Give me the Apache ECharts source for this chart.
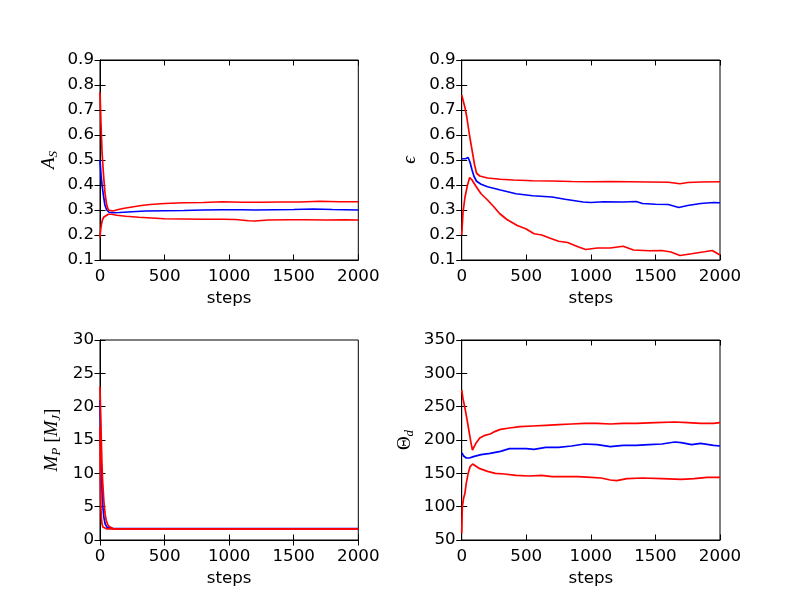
<!DOCTYPE html>
<html>
<head>
<meta charset="utf-8">
<script src="https://cdn.jsdelivr.net/npm/echarts@6/dist/echarts.min.js"></script>
<style>
html, body { margin: 0; padding: 0; background: #fff; }
#chart { width: 800px; height: 600px; }
</style>
</head>
<body>
<div id="chart"></div>
<script>
// x ticks shared by all four panels
var stepTicks = [0, 500, 1000, 1500, 2000];

// A_S : [step, value]
var asMid = [[0,0.50],[8,0.44],[16,0.40],[26,0.36],[38,0.32],[52,0.30],[70,0.291],[100,0.289],[150,0.290],[250,0.293],[350,0.296],[500,0.297],[650,0.298],[800,0.300],[950,0.301],[1100,0.301],[1200,0.300],[1350,0.301],[1500,0.302],[1650,0.304],[1800,0.302],[2000,0.300]];
var asHigh = [[0,0.77],[8,0.64],[16,0.53],[26,0.45],[38,0.37],[52,0.32],[65,0.30],[80,0.294],[100,0.296],[150,0.303],[200,0.308],[260,0.313],[320,0.318],[390,0.322],[500,0.326],[650,0.329],[800,0.330],[950,0.333],[1100,0.331],[1250,0.331],[1400,0.332],[1550,0.332],[1700,0.335],[1850,0.333],[2000,0.333]];
var asLow = [[0,0.19],[5,0.22],[12,0.245],[20,0.262],[30,0.272],[45,0.279],[65,0.283],[90,0.283],[130,0.279],[200,0.275],[300,0.271],[400,0.268],[500,0.265],[650,0.264],[800,0.263],[950,0.263],[1050,0.262],[1150,0.257],[1200,0.256],[1300,0.260],[1450,0.261],[1600,0.261],[1750,0.260],[1900,0.261],[2000,0.260]];

// epsilon
var epsMid = [[0,0.505],[15,0.51],[30,0.505],[50,0.51],[65,0.49],[80,0.46],[95,0.435],[115,0.415],[150,0.403],[200,0.393],[300,0.38],[420,0.365],[550,0.357],[700,0.352],[800,0.343],[940,0.332],[1000,0.330],[1100,0.333],[1250,0.332],[1350,0.334],[1400,0.326],[1500,0.323],[1600,0.322],[1680,0.310],[1750,0.318],[1850,0.326],[1950,0.330],[2000,0.329]];
var epsHigh = [[0,0.76],[10,0.74],[25,0.71],[40,0.67],[60,0.60],[80,0.54],[100,0.48],[115,0.447],[140,0.436],[200,0.428],[300,0.423],[400,0.420],[550,0.417],[700,0.416],[850,0.414],[1000,0.413],[1150,0.414],[1300,0.413],[1450,0.412],[1600,0.411],[1690,0.405],[1750,0.410],[1850,0.412],[2000,0.413]];
var epsLow = [[0,0.20],[10,0.29],[25,0.35],[45,0.40],[62,0.43],[80,0.42],[110,0.395],[150,0.365],[200,0.34],[245,0.315],[295,0.285],[350,0.262],[430,0.238],[500,0.224],[560,0.205],[620,0.200],[680,0.188],[750,0.175],[820,0.170],[900,0.153],[960,0.142],[1050,0.148],[1150,0.148],[1250,0.155],[1330,0.140],[1450,0.137],[1550,0.138],[1620,0.132],[1690,0.118],[1780,0.125],[1880,0.133],[1940,0.138],[2000,0.120]];

// M_P [M_J]
var mpMid = [[0,21],[5,15],[10,10.5],[15,7.5],[20,5.5],[30,3.4],[40,2.4],[55,1.9],[70,1.75],[100,1.7],[2000,1.7]];
var mpHigh = [[0,23],[5,19],[10,15],[15,11.5],[20,9],[30,5.8],[40,3.8],[50,2.8],[65,2.1],[80,1.85],[100,1.72],[150,1.68],[2000,1.68]];
var mpLow = [[0,17],[3,9],[6,5.5],[10,3.5],[15,2.5],[22,1.95],[32,1.75],[50,1.68],[2000,1.68]];

// Theta_d
var thMid = [[0,181],[15,176],[35,173],[60,173],[90,175],[150,178],[220,180],[300,183],[370,187],[430,187],[500,187],[560,186],[650,189],[750,189],[850,191],[950,194],[1050,193],[1150,190],[1250,192],[1350,192],[1450,193],[1550,194],[1650,197],[1700,196],[1780,193],[1850,195],[1950,192],[2000,191]];
var thHigh = [[0,275],[10,262],[25,248],[40,232],[55,215],[70,198],[83,185],[95,188],[110,195],[140,203],[180,207],[220,209],[260,213],[300,216],[370,218],[450,220],[550,221],[650,222],[750,223],[850,224],[950,225],[1050,225],[1150,224],[1250,225],[1350,225],[1500,226],[1650,227],[1750,226],[1850,225],[1950,225],[2000,226]];
var thLow = [[0,60],[5,100],[15,113],[25,120],[35,135],[50,150],[65,160],[85,164],[100,162],[140,157],[200,153],[260,150],[330,149],[420,147],[520,146],[620,147],[700,145],[800,145],[900,145],[1000,144],[1080,143],[1150,140],[1200,139],[1280,142],[1400,143],[1550,142],[1700,141],[1800,142],[1900,144],[2000,144]];

var panels = [
  { left: 100, top: 60, min: 0.1, max: 0.9, step: 0.1, label: '{m|A}{s|S}', gap: 40, lines: [asMid, asHigh, asLow] },
  { left: 461.7, top: 60, min: 0.1, max: 0.9, step: 0.1, label: '{m|ϵ}', gap: 42, lines: [epsMid, epsHigh, epsLow] },
  { left: 100, top: 340, min: 0, max: 30, step: 5, label: '{m|M}{s|P}{r| [}{m|M}{s|J}{r|]}', gap: 37, lines: [mpMid, mpHigh, mpLow] },
  { left: 461.7, top: 340, min: 50, max: 350, step: 50, label: '{r|Θ}{s|d}', gap: 46, lines: [thMid, thHigh, thLow] }
];
var colors = ['#0000ff', '#ff0000', '#ff0000'];

var tickFont = { fontFamily: 'DejaVu Sans', fontSize: 16.7, color: '#000' };
var mathRich = {
  m: { fontFamily: 'Liberation Serif', fontStyle: 'italic', fontSize: 19, color: '#000' },
  r: { fontFamily: 'Liberation Serif', fontSize: 19, color: '#000' },
  s: { fontFamily: 'Liberation Serif', fontStyle: 'italic', fontSize: 13, color: '#000', padding: [9, 0, 0, 0] }
};

function plain(v) { return String(+v.toFixed(6)); }

var grid = [], xAxis = [], yAxis = [], series = [];
panels.forEach(function (p, i) {
  grid.push({ left: p.left, top: p.top, width: 258.3, height: 200, show: true, borderColor: '#000', borderWidth: 1, backgroundColor: '#fff' });
  var tick = { show: true, inside: true, length: 5.5, lineStyle: { color: '#000', width: 1 } };
  var line = { show: true, lineStyle: { color: '#000', width: 1 } };
  xAxis.push({
    type: 'value', gridIndex: i, min: stepTicks[0], max: stepTicks[stepTicks.length - 1], interval: stepTicks[1] - stepTicks[0], position: 'bottom',
    axisLine: line, axisTick: tick, splitLine: { show: false },
    axisLabel: Object.assign({ margin: 8, showMinLabel: true, showMaxLabel: true, formatter: plain }, tickFont),
    name: 'steps', nameLocation: 'middle', nameGap: 30, nameTextStyle: tickFont
  });
  xAxis.push({
    type: 'value', gridIndex: i, min: stepTicks[0], max: stepTicks[stepTicks.length - 1], interval: stepTicks[1] - stepTicks[0], position: 'top',
    axisLine: line, axisTick: tick, axisLabel: { show: false }, splitLine: { show: false }
  });
  yAxis.push({
    type: 'value', gridIndex: i, min: p.min, max: p.max, interval: p.step, position: 'left',
    axisLine: line, axisTick: tick, splitLine: { show: false },
    axisLabel: Object.assign({ margin: 6, showMinLabel: true, showMaxLabel: true, formatter: plain }, tickFont),
    name: p.label, nameLocation: 'middle', nameGap: p.gap, nameTextStyle: { rich: mathRich }
  });
  yAxis.push({
    type: 'value', gridIndex: i, min: p.min, max: p.max, interval: p.step, position: 'right',
    axisLine: line, axisTick: tick, axisLabel: { show: false }, splitLine: { show: false }
  });
  p.lines.forEach(function (d, k) {
    series.push({
      type: 'line', xAxisIndex: 2 * i, yAxisIndex: 2 * i, data: d,
      showSymbol: false, symbol: 'none', silent: true,
      lineStyle: { color: colors[k], width: 1.7 }, z: 2 + k
    });
  });
});

var chart = echarts.init(document.getElementById('chart'));
chart.setOption({
  animation: false,
  backgroundColor: '#fff',
  grid: grid,
  xAxis: xAxis,
  yAxis: yAxis,
  series: series
});
</script>
</body>
</html>
